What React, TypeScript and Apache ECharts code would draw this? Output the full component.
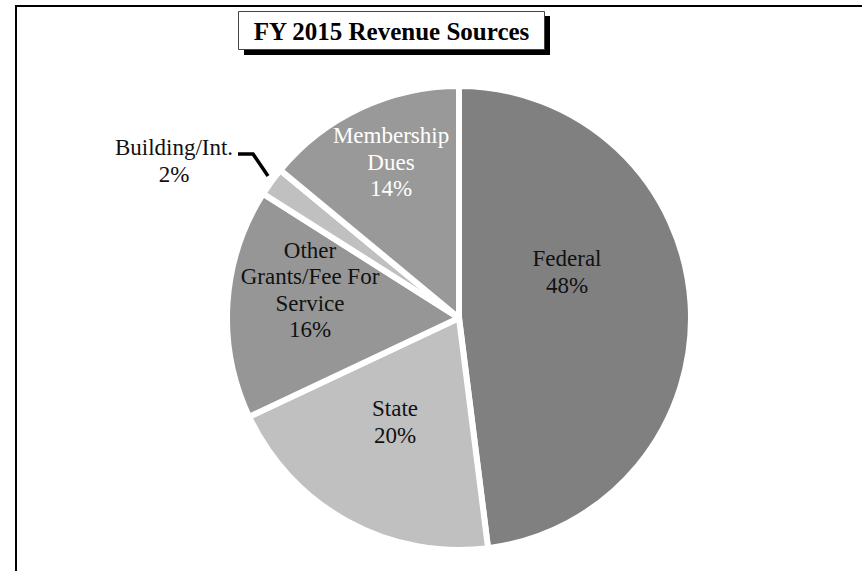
import React, { useEffect, useRef } from "react";
import * as echarts from "echarts";

const titleText = "FY 2015 Revenue Sources";
const categories = ["Federal", "State", "Other Grants/Fee For Service", "Building/Int.", "Membership Dues"];
const labelNames = ["Federal", "State", "Other\nGrants/Fee For\nService", "Building/Int.", "Membership\nDues"];
const values = [48, 20, 16, 2, 14];
const colors = ["#808080", "#c0c0c0", "#969696", "#c0c0c0", "#999999"];
const labelColors = ["#111", "#111", "#111", "#111", "#ffffff"];
const labelCenters = [
  [567, 272],
  [395, 422],
  [310, 290],
  [174, 161],
  [391, 162],
];
const buildingLinePoints = [
  [268, 176],
  [253, 154],
  [238, 154],
];

const FONT = "Liberation Serif";

export default function App() {
  const ref = useRef<HTMLDivElement>(null);
  useEffect(() => {
    if (!ref.current) return;
    const chart = echarts.init(ref.current, null, { renderer: "svg" });
    const data = categories.map((name, i) => {
      const outside = i === 3;
      return {
        name,
        value: values[i],
        itemStyle: { color: colors[i] },
        label: {
          position: outside ? "outside" : "inside",
          color: labelColors[i],
        },
        labelLine: outside
          ? { show: true, length: 10, length2: 15, lineStyle: { color: "#000", width: 3.5 } }
          : { show: false },
      };
    });
    chart.setOption({
      animation: false,
      backgroundColor: "#ffffff",
      graphic: [
        {
          type: "rect",
          z: 0,
          shape: { x: 16, y: 6, width: 900, height: 700 },
          style: { fill: "none", stroke: "#000", lineWidth: 2 },
        },
        {
          type: "rect",
          z: 10,
          shape: { x: 244, y: 16, width: 306, height: 39 },
          style: { fill: "#000" },
        },
        {
          type: "rect",
          z: 11,
          shape: { x: 238.5, y: 11.5, width: 306, height: 38 },
          style: { fill: "#fff", stroke: "#444", lineWidth: 1 },
        },
        {
          type: "text",
          z: 12,
          x: 391.5,
          y: 31,
          style: {
            text: titleText,
            fill: "#000",
            fontFamily: FONT,
            fontWeight: "bold",
            fontSize: 25,
            textAlign: "center",
            textVerticalAlign: "middle",
          },
        },
      ],
      series: [
        {
          type: "pie",
          center: [459, 318],
          radius: [0, 232],
          startAngle: 90,
          clockwise: true,
          data,
          itemStyle: { borderColor: "#fff", borderWidth: 6 },
          label: {
            show: true,
            formatter: (p: any) => `${labelNames[p.dataIndex]}\n${p.value}%`,
            fontFamily: FONT,
            fontSize: 23,
            lineHeight: 26.5,
            align: "center",
          },
          emphasis: { disabled: true },
          labelLayout: (params: any) => {
            const i = params.dataIndex;
            const out: any = {
              x: labelCenters[i][0],
              y: labelCenters[i][1],
              align: "center",
              verticalAlign: "middle",
            };
            if (i === 3) out.labelLinePoints = buildingLinePoints;
            return out;
          },
        },
      ],
    });
    return () => chart.dispose();
  }, []);
  return (
    <div
      ref={ref}
      style={{ position: "fixed", left: 0, top: 0, width: 862, height: 571, background: "#fff" }}
    />
  );
}
